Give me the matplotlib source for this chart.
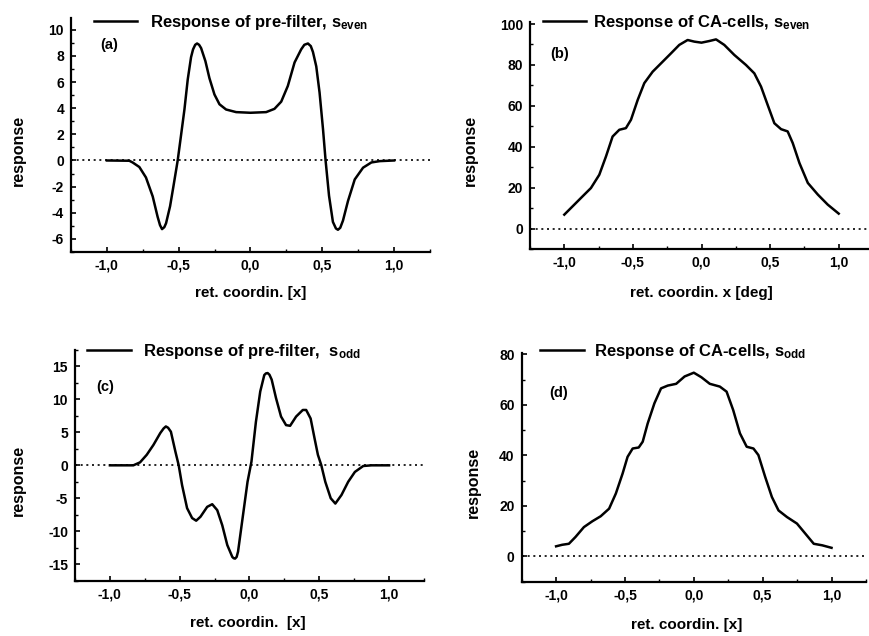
import matplotlib
matplotlib.use("Agg")
import matplotlib.pyplot as plt
from matplotlib.ticker import MultipleLocator

plt.rcParams['font.family'] = ['Liberation Sans', 'DejaVu Sans']
plt.rcParams['font.weight'] = 'bold'
plt.rcParams['mathtext.fontset'] = 'custom'
plt.rcParams['mathtext.rm'] = 'Liberation Sans:bold'
plt.rcParams['mathtext.it'] = 'Liberation Sans:bold'

# (a) response of pre-filter, s_even
xa = [-1.0, -0.844, -0.821, -0.774, -0.728, -0.681, -0.647, -0.630, -0.616, -0.600,
      -0.588, -0.560, -0.537, -0.507, -0.484, -0.460, -0.437, -0.414, -0.400, -0.385,
      -0.372, -0.358, -0.344, -0.314, -0.286, -0.251, -0.216, -0.170, -0.100, 0.0,
      0.109, 0.167, 0.214, 0.260, 0.307, 0.353, 0.375, 0.400, 0.420, 0.435,
      0.458, 0.481, 0.505, 0.523, 0.547, 0.574, 0.595, 0.609, 0.625, 0.644,
      0.679, 0.726, 0.784, 0.842, 0.900, 1.0]
ya = [0.0, -0.02, -0.15, -0.5, -1.3, -2.75, -4.3, -4.95, -5.25, -5.1,
      -4.8, -3.5, -2.0, 0.0, 1.9, 3.9, 6.2, 7.9, 8.5, 8.85,
      8.95, 8.85, 8.6, 7.6, 6.3, 5.05, 4.3, 3.9, 3.7, 3.65,
      3.7, 3.95, 4.5, 5.7, 7.5, 8.5, 8.85, 8.95, 8.75, 8.3,
      7.2, 5.2, 2.4, 0.0, -2.7, -4.7, -5.2, -5.3, -5.15, -4.6,
      -3.1, -1.45, -0.55, -0.15, -0.05, 0.0]

# (b) response of CA-cells, s_even
xb = [-1.0, -0.927, -0.866, -0.806, -0.745, -0.696, -0.648, -0.599, -0.551, -0.514,
      -0.465, -0.417, -0.356, -0.283, -0.222, -0.162, -0.101, -0.052, 0.0, 0.057,
      0.106, 0.166, 0.239, 0.324, 0.385, 0.434, 0.482, 0.531, 0.580, 0.628,
      0.665, 0.714, 0.775, 0.848, 0.920, 1.0]
yb = [6.8, 11.7, 15.8, 19.8, 26.3, 35.3, 45.0, 48.3, 49.1, 53.2,
      62.9, 71.1, 76.7, 81.6, 85.7, 89.8, 92.2, 91.4, 90.9, 91.7,
      92.5, 89.8, 84.9, 80.0, 75.9, 69.4, 60.5, 51.5, 48.6, 47.5,
      41.8, 32.0, 22.3, 16.6, 11.7, 7.3]

# (c) response of pre-filter, s_odd
xc = [-1.0, -0.832, -0.784, -0.736, -0.688, -0.639, -0.615, -0.599, -0.583, -0.563,
      -0.531, -0.507, -0.483, -0.447, -0.411, -0.382, -0.351, -0.303, -0.267, -0.231,
      -0.195, -0.159, -0.123, -0.113, -0.103, -0.092, -0.082, -0.050, -0.014, 0.014,
      0.046, 0.077, 0.106, 0.118, 0.130, 0.143, 0.159, 0.190, 0.226, 0.262,
      0.291, 0.334, 0.382, 0.406, 0.438, 0.466, 0.490, 0.514, 0.543, 0.582,
      0.615, 0.659, 0.707, 0.755, 0.815, 0.875, 1.0]
yc = [0.0, 0.0, 0.45, 1.6, 3.1, 4.9, 5.6, 5.9, 5.7, 5.1,
      2.1, 0.0, -3.0, -6.5, -8.0, -8.4, -7.8, -6.3, -5.9, -6.8,
      -9.1, -12.1, -13.9, -14.1, -14.15, -13.9, -13.1, -8.1, -2.5, 0.55,
      6.6, 11.2, 13.7, 13.95, 14.0, 13.75, 13.0, 10.2, 7.4, 6.1,
      6.0, 7.4, 8.4, 8.4, 7.1, 4.1, 1.6, 0.05, -2.5, -5.0,
      -5.8, -4.5, -2.5, -1.0, -0.1, 0.0, 0.0]

# (d) response of CA-cells, s_odd
xd = [-1.0, -0.956, -0.907, -0.859, -0.798, -0.737, -0.676, -0.615, -0.566, -0.517,
      -0.481, -0.444, -0.400, -0.371, -0.335, -0.286, -0.238, -0.189, -0.128, -0.067,
      0.0, 0.055, 0.116, 0.189, 0.238, 0.286, 0.335, 0.384, 0.433, 0.469,
      0.518, 0.567, 0.615, 0.676, 0.749, 0.810, 0.871, 0.932, 1.0]
yd = [4.0, 4.6, 5.0, 7.7, 11.6, 13.9, 15.9, 18.9, 24.9, 32.8,
      39.4, 42.7, 43.1, 45.4, 52.6, 60.6, 66.5, 67.6, 68.3, 71.2,
      72.7, 70.9, 68.3, 67.2, 65.2, 57.9, 48.7, 43.4, 42.7, 40.1,
      31.5, 23.5, 18.2, 15.6, 13.0, 9.0, 5.0, 4.4, 3.4]

x_ticks = [-1.0, -0.5, 0.0, 0.5, 1.0]
x_ticklabels = ['-1,0', '-0,5', '0,0', '0,5', '1,0']

panels = [
    dict(x=xa, y=ya, rect=[0.0817, 0.6038, 0.4131, 0.3679], ylim=(-7, 10.9),
         yticks=[-6, -4, -2, 0, 2, 4, 6, 8, 10], yminor=1,
         label=r'Response of pre-filter, s$_{\rm even}$', tag='(a)',
         leg=(0.064, 0.98), hl=2.6, htp=0.75, tagpos=(0.081, 0.885),
         xlabel='ret. coordin. [x]', xlpos=(0.5, -0.1765), ylpos=(-0.1468, 0.432)),
    dict(x=xb, y=yb, rect=[0.6099, 0.6085, 0.3947, 0.3569], ylim=(-10, 101),
         yticks=[0, 20, 40, 60, 80, 100], yminor=10,
         label=r'Response of CA-cells, s$_{\rm even}$', tag='(b)',
         leg=(0.039, 1.0), hl=2.55, htp=0.45, tagpos=(0.06, 0.859),
         xlabel='ret. coordin. x [deg]', xlpos=(0.5006, -0.195), ylpos=(-0.175, 0.433)),
    dict(x=xc, y=yc, rect=[0.0863, 0.0870, 0.4016, 0.3627], ylim=(-17.5, 17.5),
         yticks=[-15, -10, -5, 0, 5, 10, 15], yminor=2.5,
         label=r'Response of pre-filter,  s$_{\rm odd}$', tag='(c)',
         leg=(0.035, 0.993), hl=2.6, htp=0.75, tagpos=(0.062, 0.841),
         xlabel='ret. coordin.  [x]', xlpos=(0.496, -0.185), ylpos=(-0.1625, 0.436)),
    dict(x=xd, y=yd, rect=[0.6003, 0.0854, 0.3962, 0.3596], ylim=(-10, 80.5),
         yticks=[0, 20, 40, 60, 80], yminor=10,
         label=r'Response of CA-cells, s$_{\rm odd}$', tag='(d)',
         leg=(0.053, 1.006), hl=2.65, htp=0.6, tagpos=(0.08, 0.825),
         xlabel='ret. coordin. [x]', xlpos=(0.479, -0.189), ylpos=(-0.1406, 0.434)),
]

fig = plt.figure(figsize=(8.69, 6.36), dpi=100)

for p in panels:
    ax = fig.add_axes(p['rect'])
    ax.plot(p['x'], p['y'], color='black', lw=1.8, label=p['label'])
    ax.axhline(0, color='black', lw=1.2, linestyle=(0, (1.2, 2.2)))
    ax.set_xlim(-1.25, 1.25)
    ax.set_ylim(*p['ylim'])
    ax.spines['top'].set_visible(False)
    ax.spines['right'].set_visible(False)
    for s in ['left', 'bottom']:
        ax.spines[s].set_linewidth(1.6)
    ax.set_xticks(x_ticks)
    ax.set_xticklabels(x_ticklabels)
    ax.set_yticks(p['yticks'])
    ax.set_yticklabels([str(v) for v in p['yticks']])
    ax.xaxis.set_minor_locator(MultipleLocator(0.25))
    ax.yaxis.set_minor_locator(MultipleLocator(p['yminor']))
    ax.tick_params(which='major', direction='in', length=3.5, width=1.2,
                   labelsize=10, pad=5)
    ax.tick_params(which='minor', direction='in', length=2, width=1)
    ax.set_xlabel(p['xlabel'], fontsize=11, fontweight='bold', va='center')
    ax.xaxis.set_label_coords(*p['xlpos'])
    ax.set_ylabel('response', fontsize=11.5, fontweight='bold', va='center')
    ax.yaxis.set_label_coords(*p['ylpos'])
    ax.text(p['tagpos'][0], p['tagpos'][1], p['tag'], transform=ax.transAxes,
            fontsize=10.5, fontweight='bold', va='center', ha='left')
    ax.legend(loc='center left', bbox_to_anchor=p['leg'], frameon=False,
              borderpad=0, borderaxespad=0, handlelength=p['hl'],
              handletextpad=p['htp'], prop={'size': 12, 'weight': 'bold'})

fig.savefig('out.png', dpi=100)
